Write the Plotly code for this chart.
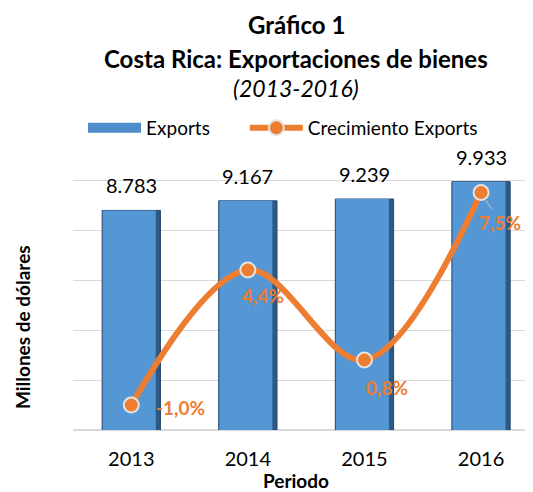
import plotly.graph_objects as go

years = ["2013", "2014", "2015", "2016"]
exports = [8783, 9167, 9239, 9933]
growth = [-1.0, 4.4, 0.8, 7.5]
label_shift_x = [49, 15, 23, 0]
label_shift_y = [-2, -25, -27, 0]

FONT = "Lato"
ORANGE = "#ED7D31"
BLUE = "#5596D5"
BLUE_EDGE = "#2C5986"

xi = list(range(len(years)))

fig = go.Figure()
# bar body (dark edge layer)
fig.add_trace(go.Bar(
    x=xi, y=exports, name="Exports", width=0.5, offset=-0.25, showlegend=False,
    marker=dict(color=BLUE_EDGE, line=dict(color="#24486E", width=1)),
    hoverinfo="skip",
))
# bar face
fig.add_trace(go.Bar(
    x=xi, y=exports, name="Exports", width=0.455, offset=-0.245, showlegend=False,
    marker=dict(color=BLUE, line=dict(width=0)),
))
# legend entry for bars (wide rectangle like the reference)
fig.add_trace(go.Scatter(
    x=[None], y=[None], name="Exports", mode="lines",
    line=dict(color="#4F8CCB", width=11), showlegend=True, legend="legend",
))
fig.add_trace(go.Scatter(
    x=xi, y=growth, name="Crecimiento Exports", yaxis="y2",
    mode="lines+markers", legend="legend2",
    line=dict(color=ORANGE, width=6, shape="spline", smoothing=1.0),
    marker=dict(color=ORANGE, size=15, line=dict(color="#E4E4E4", width=2)),
))

annotations = []
for i, v in enumerate(exports):
    annotations.append(dict(
        x=i, y=v, xref="x", yref="y", text=f"{v:,}".replace(",", "."),
        showarrow=False, yanchor="middle", yshift=25,
        font=dict(family=FONT, size=20, color="#000000"),
    ))
for i, v in enumerate(growth):
    txt = f"{v:.1f}%".replace(".", ",")
    if i == len(growth) - 1:
        annotations.append(dict(
            x=i, y=v, xref="x", yref="y2", text=txt,
            showarrow=True, ax=19, ay=30, arrowhead=0, arrowwidth=1,
            arrowcolor="#BFBFBF", standoff=8,
            font=dict(family=FONT, size=19, color=ORANGE, weight="bold"),
        ))
    else:
        annotations.append(dict(
            x=i, y=v, xref="x", yref="y2", text=txt,
            showarrow=False, xshift=label_shift_x[i], yshift=label_shift_y[i],
            font=dict(family=FONT, size=19, color=ORANGE, weight="bold"),
        ))

# titles
annotations += [
    dict(x=0.488, y=1.353, xref="paper", yref="paper", text="<b>Gráfico 1</b>",
         showarrow=False, xanchor="center", yanchor="middle",
         font=dict(family=FONT, size=24, color="#000000")),
    dict(x=0.488, y=1.24, xref="paper", yref="paper", text="<b>Costa Rica: Exportaciones de bienes</b>",
         showarrow=False, xanchor="center", yanchor="middle",
         font=dict(family=FONT, size=24, color="#000000")),
    dict(x=0.488, y=1.14, xref="paper", yref="paper", text="<i>(2013-2016)</i>",
         showarrow=False, xanchor="center", yanchor="middle",
         font=dict(family=FONT, size=23, color="#000000")),
    dict(x=-0.1116, y=0.343, xref="paper", yref="paper", text="<b>Millones de dólares</b>",
         textangle=-90, showarrow=False, xanchor="center", yanchor="middle",
         font=dict(family=FONT, size=19, color="#000000")),
    dict(x=0.488, y=-0.168, xref="paper", yref="paper", text="<b>Periodo</b>",
         showarrow=False, xanchor="center", yanchor="middle",
         font=dict(family=FONT, size=19, color="#000000")),
]

legend_common = dict(
    orientation="h", yanchor="middle", y=1.007, xanchor="left",
    font=dict(family=FONT, size=19, color="#000000"),
    bgcolor="rgba(255,255,255,0)", itemwidth=53,
)

# page body adds an 8px margin on the left and top, so the figure is 8px smaller
fig.update_layout(
    width=525, height=484,
    margin=dict(l=65, r=3, t=122, b=62, autoexpand=False),
    paper_bgcolor="white", plot_bgcolor="white",
    barmode="overlay",
    legend=dict(x=0.022, **legend_common),
    legend2=dict(x=0.376, **legend_common),
    xaxis=dict(
        range=[-0.5, 3.42], showgrid=False, showline=False, zeroline=False,
        tickmode="array", tickvals=xi, ticktext=years, ticks="",
        ticklabelstandoff=15,
        tickfont=dict(family=FONT, size=20, color="#000000"),
    ),
    yaxis=dict(
        range=[0, 12000], dtick=2000, showgrid=True, gridcolor="#D9D9D9", gridwidth=1,
        showticklabels=False, zeroline=True, zerolinecolor="#D9D9D9", ticks="",
    ),
    yaxis2=dict(
        range=[-2, 10], overlaying="y", side="right", showgrid=False,
        showticklabels=False, zeroline=False, ticks="",
    ),
    annotations=annotations,
)

fig.write_html("out.html")
